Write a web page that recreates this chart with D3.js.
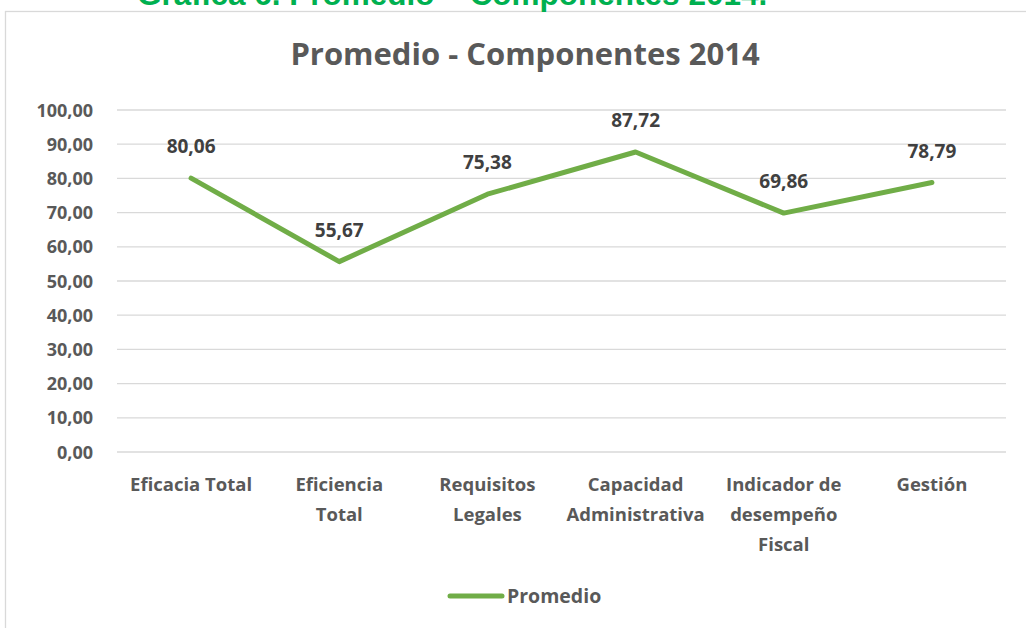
<html>
<head>
<meta charset="UTF-8">
<script src="https://d3js.org/d3.v7.min.js"></script>
<style>
  body { margin: 0; background: #fff; }
  svg { font-family: "Open Sans", sans-serif; }
  .grid line { stroke: #d9d9d9; stroke-width: 1.3; }
  .tick-label { font-size: 18px; font-weight: bold; fill: #595959; }
  .cat-label { font-size: 18.5px; font-weight: bold; fill: #595959; }
  .value-label { font-size: 19px; font-weight: bold; fill: #404040; }
</style>
</head>
<body>
<div id="chart"></div>
<script>
// data
var categorias = [["Eficacia Total"], ["Eficiencia", "Total"], ["Requisitos", "Legales"],
  ["Capacidad", "Administrativa"], ["Indicador de", "desempeño", "Fiscal"], ["Gestión"]];
var promedio = [80.06, 55.67, 75.38, 87.72, 69.86, 78.79];
var yTicks = [0, 10, 20, 30, 40, 50, 60, 70, 80, 90, 100];
var serieNombre = "Promedio";

var width = 1026, height = 628;
var plotLeft = 117, plotRight = 1006, plotTop = 110, plotBottom = 452;
var verde = "#70ad47";
var fmt = d => d.toFixed(2).replace(".", ",");

var svg = d3.select("#chart").append("svg")
  .attr("width", width).attr("height", height);

// outer chart border
svg.append("rect")
  .attr("x", 5.5).attr("y", 11.5)
  .attr("width", 1040).attr("height", 640)
  .attr("fill", "#fff").attr("stroke", "#d9d9d9").attr("stroke-width", 1.3);

// cut-off document caption
svg.append("text")
  .attr("x", 137).attr("y", 5)
  .attr("font-family", "Liberation Sans, Arial")
  .attr("font-size", 31.5).attr("font-weight", "bold")
  .attr("fill", "#00b050")
  .text("Gráfica 6. Promedio – Componentes 2014.");

// chart title
svg.append("text")
  .attr("x", 525).attr("y", 65)
  .attr("text-anchor", "middle")
  .attr("font-size", 31).attr("font-weight", "bold")
  .attr("fill", "#595959")
  .text("Promedio - Componentes 2014");

var x = d3.scaleBand()
  .domain(d3.range(categorias.length))
  .range([plotLeft, plotRight]);

var y = d3.scaleLinear().domain([0, 100]).range([plotBottom, plotTop]);

// gridlines
svg.append("g").attr("class", "grid")
  .selectAll("line").data(yTicks).enter()
  .append("line")
  .attr("x1", plotLeft).attr("x2", plotRight)
  .attr("y1", d => y(d)).attr("y2", d => y(d));

// y labels
svg.append("g").selectAll("text").data(yTicks).enter()
  .append("text")
  .attr("class", "tick-label")
  .attr("x", 93).attr("y", d => y(d) + 6.5)
  .attr("text-anchor", "end")
  .text(fmt);

// category labels
svg.append("g").selectAll("text").data(categorias).enter()
  .append("text")
  .attr("class", "cat-label")
  .attr("text-anchor", "middle")
  .attr("y", 491)
  .each(function(lines, i) {
    var t = d3.select(this);
    lines.forEach(function(l, j) {
      t.append("tspan")
        .attr("x", x(i) + x.bandwidth() / 2)
        .attr("dy", j === 0 ? 0 : 30)
        .text(l);
    });
  });

// line
var line = d3.line()
  .x((d, i) => x(i) + x.bandwidth() / 2)
  .y(d => y(d));

svg.append("path")
  .datum(promedio)
  .attr("d", line)
  .attr("fill", "none")
  .attr("stroke", verde)
  .attr("stroke-width", 5)
  .attr("stroke-linecap", "round")
  .attr("stroke-linejoin", "round");

// data labels
svg.append("g").selectAll("text").data(promedio).enter()
  .append("text")
  .attr("class", "value-label")
  .attr("text-anchor", "middle")
  .attr("x", (d, i) => x(i) + x.bandwidth() / 2)
  .attr("y", d => y(d) - 25)
  .text(fmt);

// legend
svg.append("line")
  .attr("x1", 450).attr("x2", 502)
  .attr("y1", 596).attr("y2", 596)
  .attr("stroke", verde).attr("stroke-width", 5)
  .attr("stroke-linecap", "round");
svg.append("text")
  .attr("x", 507).attr("y", 603)
  .attr("font-size", 19.5).attr("font-weight", "bold")
  .attr("fill", "#595959")
  .text(serieNombre);
</script>
</body>
</html>
